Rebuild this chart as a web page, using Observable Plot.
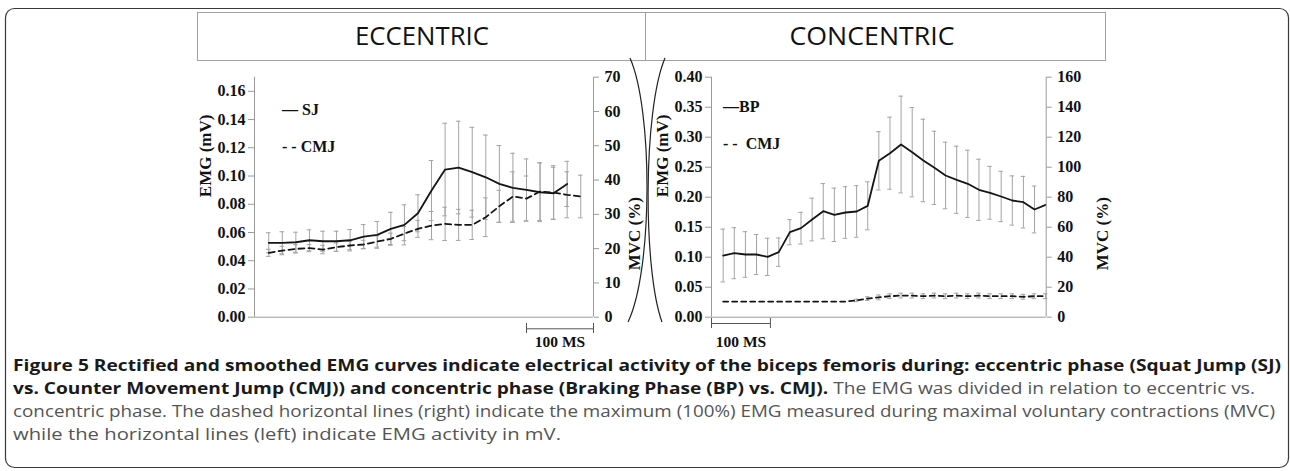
<!DOCTYPE html>
<html>
<head>
<meta charset="utf-8">
<script src="https://cdn.jsdelivr.net/npm/d3@7"></script>
<script src="https://cdn.jsdelivr.net/npm/@observablehq/plot@0.6"></script>
<style>
html,body{margin:0;padding:0;background:#fff;}
#root{position:relative;width:1290px;height:471px;overflow:hidden;background:#fff;}
#root > *{position:absolute;}
</style>
</head>
<body>
<div id="root"></div>
<script>
// ---------------- data ----------------
const panelTitles = ["ECCENTRIC", "CONCENTRIC"];

// eccentric phase: sample index (20 ms steps)
const eccSamples = d3.range(24);
const sjMean = [0.0527,0.0527,0.0531,0.0545,0.0538,0.0538,0.0545,0.0571,0.0583,0.0626,0.0654,0.0736,0.0897,0.1046,0.1060,0.1027,0.0991,0.0944,0.0916,0.0902,0.0885,0.0878,0.0944,null];
const sjSD   = [0.0071,0.0078,0.0071,0.0074,0.0071,0.0071,0.0076,0.0085,0.0095,0.0117,0.0142,0.0131,0.0213,0.0328,0.0328,0.0318,0.0299,0.0272,0.0245,0.0219,0.0208,0.0184,0.0160,null];
const eccCmjMean = [0.0456,0.0472,0.0484,0.0489,0.0479,0.0496,0.0508,0.0515,0.0536,0.0555,0.0592,0.0626,0.0649,0.0661,0.0654,0.0654,0.0708,0.0786,0.0855,0.0840,0.0890,0.0883,0.0867,0.0855];
const eccCmjSD   = [0.0025,0.0030,0.0030,0.0025,0.0030,0.0030,0.0030,0.0030,0.0040,0.0040,0.0050,0.0060,0.0100,0.0118,0.0110,0.0104,0.0137,0.0113,0.0175,0.0160,0.0205,0.0190,0.0163,0.0151];

// concentric phase
const conSamples = d3.range(30);
const bpMean = [0.1028,0.1067,0.1045,0.1045,0.1006,0.1084,0.1417,0.1484,0.1628,0.1767,0.1706,0.1745,0.1762,0.1856,0.2606,0.2733,0.2878,0.2750,0.2612,0.2489,0.2362,0.2290,0.2223,0.2123,0.2073,0.2012,0.1945,0.1917,0.1795,0.1873];
const bpSD   = [0.0440,0.0425,0.0380,0.0333,0.0310,0.0236,0.0210,0.0264,0.0356,0.0460,0.0445,0.0430,0.0430,0.0400,0.0486,0.0600,0.0806,0.0745,0.0687,0.0610,0.0555,0.0560,0.0560,0.0510,0.0440,0.0420,0.0410,0.0430,0.0390,null];
const conCmjMean = [0.026,0.026,0.026,0.026,0.026,0.026,0.026,0.026,0.026,0.026,0.026,0.026,0.028,0.031,0.033,0.035,0.036,0.036,0.035,0.036,0.035,0.036,0.035,0.036,0.035,0.035,0.035,0.034,0.035,0.035];
const conCmjSD   = [null,null,null,null,null,null,null,null,null,null,null,null,0.002,0.003,0.004,0.004,0.004,0.004,0.004,0.004,0.004,0.004,0.004,0.004,0.004,0.004,0.004,0.004,0.004,0.004];

// axis ticks
const eccEmgTicks = [0,0.02,0.04,0.06,0.08,0.10,0.12,0.14,0.16];
const eccMvcTicks = [0,10,20,30,40,50,60,70];
const conEmgTicks = [0,0.05,0.10,0.15,0.20,0.25,0.30,0.35,0.40];
const conMvcTicks = [0,20,40,60,80,100,120,140,160];

const eccScaleBar = {from: 19, to: 23.94, label: "100 MS"};
const conScaleBar = {from: -1.05, to: 4.25, label: "100 MS"};

const captionLines = [
  [{t:"Figure 5 Rectified and smoothed EMG curves indicate electrical activity of the biceps femoris during: eccentric phase (Squat Jump (SJ)", b:true}],
  [{t:"vs. Counter Movement Jump (CMJ)) and concentric phase (Braking Phase (BP) vs. CMJ).", b:true},{t:" The EMG was divided in relation to eccentric vs.", b:false}],
  [{t:"concentric phase. The dashed horizontal lines (right) indicate the maximum (100%) EMG measured during maximal voluntary contractions (MVC)", b:false}],
  [{t:"while the horizontal lines (left) indicate EMG activity in mV.", b:false}]
];
const captionWidths = [1268, 1242, 1262, 548];

// ---------------- drawing ----------------
const W = 1290, H = 471;
const serif = "'Liberation Serif','Times New Roman',serif";
const sans = "'Open Sans','Noto Sans',sans-serif";
const root = d3.select("#root");

// decoration layer
const deco = root.append("svg").attr("width", W).attr("height", H).style("left","0px").style("top","0px");
deco.append("rect").attr("x",5.5).attr("y",8.5).attr("width",1283).attr("height",459).attr("rx",9)
  .attr("fill","none").attr("stroke","#3a3a3a").attr("stroke-width",1.2);
// header box
deco.append("rect").attr("x",197.5).attr("y",12.5).attr("width",908).attr("height",48)
  .attr("fill","none").attr("stroke","#a0a0a0");
deco.append("line").attr("x1",645.5).attr("x2",645.5).attr("y1",12.5).attr("y2",60.5).attr("stroke","#a0a0a0");
const titleCenters = [422, 872];
const titleWidths = [134, 165];
panelTitles.forEach((t, i) => {
  deco.append("text").attr("x", titleCenters[i] - titleWidths[i]/2).attr("y", 45)
    .attr("textLength", titleWidths[i]).attr("lengthAdjust","spacingAndGlyphs")
    .style("font-family", sans).style("font-size","26px").style("fill","#111").text(t);
});
// parentheses between panels
deco.append("path").attr("d","M630,58 C653,110 653,270 628,322").attr("fill","none").attr("stroke","#222").attr("stroke-width",1.2);
deco.append("path").attr("d","M665,58 C643,110 643,270 662,322").attr("fill","none").attr("stroke","#222").attr("stroke-width",1.2);
// caption
const capY = [371, 394, 417, 440];
captionLines.forEach((parts, i) => {
  const tx = deco.append("text").attr("x", 13).attr("y", capY[i])
    .attr("textLength", captionWidths[i]).attr("lengthAdjust","spacingAndGlyphs")
    .style("font-family", sans).style("font-size","16.8px");
  parts.forEach(p => tx.append("tspan").text(p.t)
    .style("font-weight", p.b ? "bold" : "normal")
    .style("fill", p.b ? "#1a1a1a" : "#555"));
});

function panel(p) {
  const grey = "#9a9a9a";
  const marks = [];
  const rowsOf = s => s.mean.map((m, k) => ({i: p.samples[k], m, sd: s.sd[k]})).filter(d => d.m != null);
  for (const s of p.series) {
    const bars = rowsOf(s).filter(d => d.sd != null && d.sd > 0);
    marks.push(
      Plot.ruleX(bars, {x: "i", y1: d => d.m - d.sd, y2: d => d.m + d.sd, stroke: "#a3a3a3", strokeWidth: 1}),
      Plot.ruleY(bars, {x1: d => d.i - p.cap, x2: d => d.i + p.cap, y: d => d.m + d.sd, stroke: "#a3a3a3", strokeWidth: 1}),
      Plot.ruleY(bars, {x1: d => d.i - p.cap, x2: d => d.i + p.cap, y: d => d.m - d.sd, stroke: "#a3a3a3", strokeWidth: 1})
    );
  }
  for (const s of p.series) {
    marks.push(Plot.line(rowsOf(s), {x: "i", y: "m", stroke: "#151515", strokeWidth: 1.8, strokeDasharray: s.dash}));
  }
  // frame lines
  marks.push(
    Plot.ruleX([p.xDomain[0], p.xDomain[1]], {x: d => d, stroke: grey, strokeWidth: 1}),
    Plot.ruleY([0], {y: d => d, stroke: grey, strokeWidth: 1})
  );
  // axes
  marks.push(
    Plot.axisY(p.emgTicks, {anchor: "left", label: null, tickFormat: d3.format(p.emgFmt), tickSize: 6, tickPadding: 3,
      stroke: grey, fill: "#111", fontSize: 16, fontWeight: "bold"}),
    Plot.axisY(p.mvcTicks.map(t => t * p.k), {anchor: "right", label: null, tickFormat: d => String(Math.round(d / p.k)),
      tickSize: 5, tickPadding: 6, stroke: grey, fill: "#111", fontSize: 16, fontWeight: "bold"})
  );
  // axis titles
  marks.push(
    Plot.text(["EMG (mV)"], {text: d => d, frameAnchor: "left", rotate: -90, dx: p.emgLabelDx, fontSize: 17, fontWeight: "bold", fill: "#111"}),
    Plot.text(["MVC (%)"], {text: d => d, frameAnchor: "right", rotate: -90, dx: p.mvcLabelDx, fontSize: 17, fontWeight: "bold", fill: "#111"})
  );
  // legend
  p.legend.forEach(l => marks.push(
    Plot.text([l.text], {text: d => d, frameAnchor: "top-left", textAnchor: "start", lineAnchor: "middle",
      dx: l.dx, dy: l.dy, fontSize: 16, fontWeight: "bold", fill: "#111"})
  ));
  // 100 ms scale bar
  const b = p.bar;
  marks.push(
    Plot.ruleY([b], {x1: "from", x2: "to", y: () => 0, dy: p.barDy, stroke: "#555", strokeWidth: 1}),
    Plot.ruleX([b.from, b.to], {x: d => d, y1: () => 0, y2: () => 0, insetTop: p.capTop, insetBottom: -p.capBottom, stroke: "#555", strokeWidth: 1}),
    Plot.text([b], {x: d => (d.from + d.to) / 2, frameAnchor: "bottom", text: "label", lineAnchor: "middle", dy: p.labelDy, fontSize: 15.5, fontWeight: "bold", fill: "#111"})
  );
  const fig = Plot.plot({
    width: p.width, height: p.height,
    marginLeft: p.ml, marginRight: p.mr, marginTop: p.mt, marginBottom: p.mb,
    x: {domain: p.xDomain, axis: null},
    y: {domain: p.yDomain},
    style: {fontFamily: serif, background: "transparent", overflow: "visible", color: "#111"},
    marks
  });
  const div = root.append("div").style("left", p.left + "px").style("top", p.top + "px");
  div.node().appendChild(fig);
}

panel({
  left: 150, top: 60, width: 520, height: 300, ml: 104, mr: 77, mt: 16.7, mb: 43.3,
  samples: eccSamples, xDomain: [-1.05, 23.94], yDomain: [0, 0.17], k: 0.17 / 70, cap: 0.17,
  emgTicks: eccEmgTicks, emgFmt: ".2f", mvcTicks: eccMvcTicks,
  series: [
    {mean: eccCmjMean, sd: eccCmjSD, dash: "6,4"},
    {mean: sjMean, sd: sjSD, dash: null}
  ],
  emgLabelDx: -49, mvcLabelDx: 41,
  legend: [{text: "— SJ", dx: 27.5, dy: 32.5}, {text: "- - CMJ", dx: 27.5, dy: 69.5}],
  bar: eccScaleBar, barDy: 11.6, capTop: 6.3, capBottom: 16.3, labelDy: 24.5
});

panel({
  left: 620, top: 60, width: 500, height: 300, ml: 91, mr: 74.3, mt: 16.7, mb: 43.3,
  samples: conSamples, xDomain: [-1.05, 29.05], yDomain: [0, 0.40], k: 0.40 / 160, cap: 0.2,
  emgTicks: conEmgTicks, emgFmt: ".2f", mvcTicks: conMvcTicks,
  series: [
    {mean: conCmjMean, sd: conCmjSD, dash: "5,4"},
    {mean: bpMean, sd: bpSD, dash: null}
  ],
  emgLabelDx: -49.3, mvcLabelDx: 56,
  legend: [{text: "—BP", dx: 11.5, dy: 30}, {text: "- -  CMJ", dx: 11.5, dy: 66.7}],
  bar: conScaleBar, barDy: 6.3, capTop: 1.3, capBottom: 11.3, labelDy: 24.5
});
</script>
</body>
</html>
